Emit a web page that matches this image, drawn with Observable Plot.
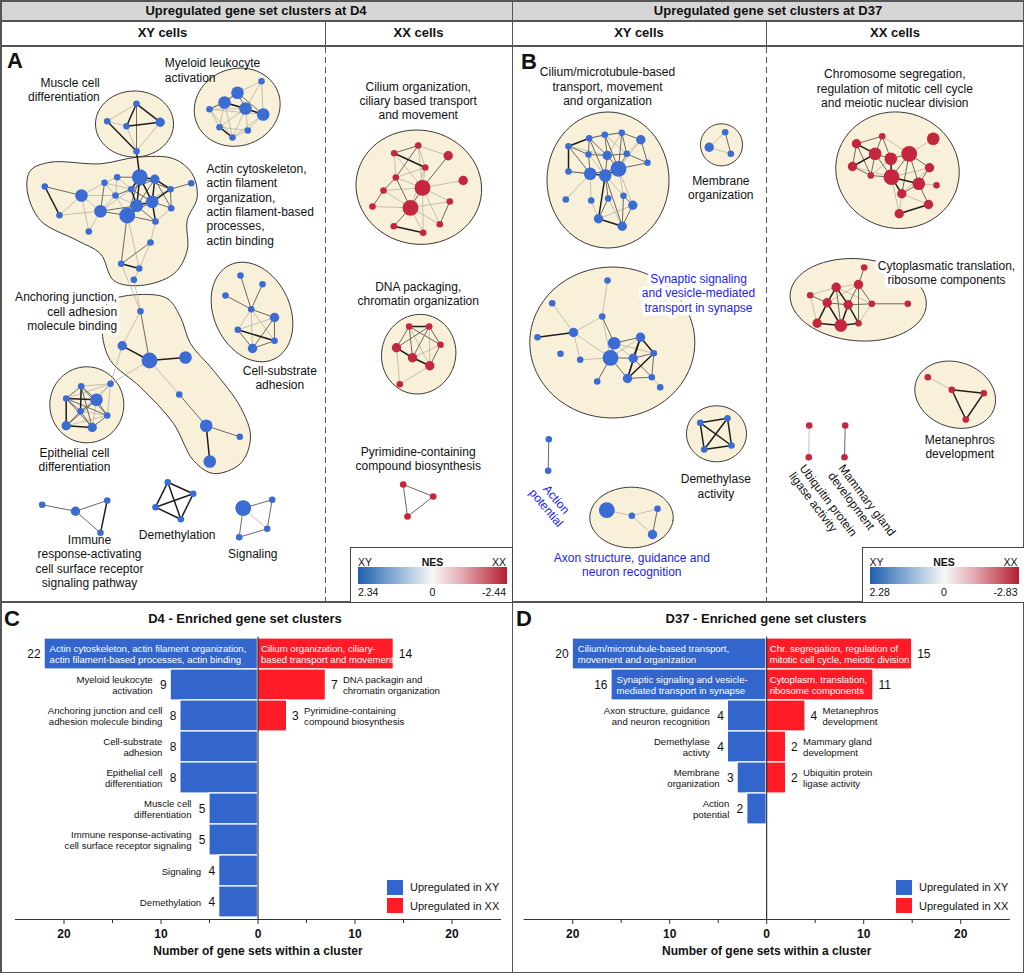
<!DOCTYPE html>
<html><head><meta charset="utf-8">
<script src="https://cdn.jsdelivr.net/npm/d3@7"></script>
<script src="https://cdn.jsdelivr.net/npm/@observablehq/plot@0.6"></script>
<style>
body{margin:0;background:#fff;font-family:"Liberation Sans",Arial,Helvetica,sans-serif;color:#111;}
#fig{position:relative;width:1024px;height:973px;overflow:hidden;background:#fff;}
.hl{position:absolute;height:1.5px;background:#555;}
.vl{position:absolute;width:1.5px;background:#555;}
.dash{position:absolute;width:1.3px;background:repeating-linear-gradient(to bottom,#555 0 6px,transparent 6px 10px);}
.hdr{position:absolute;display:flex;align-items:center;justify-content:center;font-weight:bold;font-size:13px;}
.gray{background:#d6d6d6;}
.letter{position:absolute;font-weight:bold;font-size:22px;line-height:1;}
.title{position:absolute;font-weight:bold;font-size:13px;transform:translate(-50%,-50%);white-space:nowrap;}
.nes{position:absolute;border:1.5px solid #444;background:#fff;box-sizing:border-box;}
.nes .grad{position:absolute;height:17px;background:linear-gradient(to right,#1f5fae,#9fbedd 30%,#f7f7f7 50%,#e3aab3 70%,#b51d2e);}
.nes span{position:absolute;font-size:10.5px;line-height:1;}
.leg{position:absolute;font-size:11px;}
.leg div{display:flex;align-items:center;height:18.5px;}
.leg i{display:inline-block;width:16px;height:15px;margin-right:7px;}
svg text{font-family:"Liberation Sans",Arial,Helvetica,sans-serif;}
.bar g[aria-label="x-axis tick label"] text{font-weight:bold;}
</style></head>
<body><div id="fig"></div>
<script>
// ---------------- DATA ----------------
// Network nodes: [id, layoutX, layoutY, sizeClass(1-4)]
const nodesD4XY = [
 ["m1",136,103.3,1],["m2",106.7,120.7,1],["m3",126,125.7,1],["m4",159.7,121.7,2],["m5",136,150.7,1],
 ["y1",261,80.7,1],["y2",237,92.3,3],["y3",224,102,3],["y4",245,108,3],["y5",262.7,114,3],["y6",209,108.7,1],["y7",219,126.7,1],["y8",247.3,130,1],["y9",232,137,1],
 ["a1",44.3,186,1],["a2",81,195,3],["a3",59,214.7,1],["a4",88.3,231,1],["a5",100,210.7,3],["a6",104,182.3,1],["a7",116.7,176.7,1],["a8",115,195,1],["a9",130.7,188.7,1],["a10",139.3,176.7,4],["a11",154.3,178.7,2],["a12",170,188.7,1],["a13",190.7,182.7,1],["a14",136.3,205.3,3],["a15",151.7,201.3,3],["a16",170.7,207.7,1],["a17",126.7,215,4],["a18",155,221,1],["a19",150,242,1],["a20",120.7,263.3,1],["a21",138.7,268,1],["a22",133.3,279.3,1],
 ["n1",140,310.7,1],["n2",121.7,345.3,2],["n3",149,360,4],["n4",185,357,3],["n5",178.7,394,1],["n6",205.7,425.3,3],["n7",239.3,436.3,1],["n8",209.3,461,3],
 ["e1",80.7,385.7,1],["e2",110,383.3,1],["e3",65.7,398,1],["e4",96,399.3,3],["e5",80,410.7,1],["e6",106.7,415,1],["e7",65.7,425.3,2],["e8",91.7,427,2],
 ["c1",240,275,1],["c2",262,283.7,1],["c3",225,295,1],["c4",250.7,308.7,1],["c5",274,317,2],["c6",237.3,329.3,1],["c7",274,340.3,1],["c8",252,348,2],
 ["i1",41.7,504.3,1],["i2",75,510.7,2],["i3",106.7,500,1],["i4",100,532.3,1],
 ["d1",167.3,481.7,1],["d2",192.7,493.3,1],["d3",155,506.7,1],["d4",180.3,518.7,1],
 ["g1",242.7,507.7,4],["g2",271.7,499.3,1],["g3",266.7,528.3,1],["g4",238.7,536.7,1]
];
const nodesD4XX = [
 ["r1",393.7,152.7,1],["r2",417.7,145,1],["r3",447.7,155.3,2],["r4",424.7,167,1],["r5",395.3,177,1],["r6",462.7,180,2],["r7",422,187.3,4],["r8",383,190,1],["r9",449.3,201,1],["r10",372,206,1],["r11",410,207.3,4],["r12",439.3,223.7,1],["r13",393.3,225.7,1],["r14",422.7,232.3,1],
 ["p1",408.7,326,1],["p2",428.7,326,1],["p3",396,347.3,2],["p4",440,344.3,1],["p5",412,357.3,2],["p6",429.3,365.3,2],["p7",399.3,383.7,1],
 ["q1",402.7,484,1],["q2",432.7,496,1],["q3",407,516,1]
];
const nodesD37XY = [
 ["b1",568,145.7,1],["b2",588.7,137.7,1],["b3",604.3,134.3,1],["b4",621.3,132.3,1],["b5",640.3,139.3,2],["b6",588,154,1],["b7",606.7,155,2],["b8",626.3,153.3,1],["b9",647,162.3,1],["b10",568,171,1],["b11",589.7,173.3,3],["b12",604.7,175,3],["b13",618,168.3,4],["b14",565.3,199,1],["b15",590.7,200,1],["b16",607.7,198,1],["b17",623,195.3,1],["b18",632.3,204.7,2],["b19",598,218.3,2],["b20",621.7,225.7,2],
 ["o1",724.7,131.7,1],["o2",708.7,146.7,2],["o3",730.3,153.3,1],
 ["s1",607,280,1],["s2",551.7,302.7,1],["s3",601.7,316,1],["s4",573,332,2],["s5",537,336.7,1],["s6",613.7,342.7,3],["s7",640,336.7,2],["s8",560,353.3,1],["s9",579.7,359.3,1],["s10",610,357.3,4],["s11",632.7,357.7,2],["s12",653.3,352.7,1],["s13",596.7,381,1],["s14",627,378,2],["s15",651.3,376.7,1],["s16",659.7,386.7,1],
 ["ap1",548.3,438.7,1],["ap2",547.7,470.3,1],
 ["dm1",699.7,422.3,1],["dm2",727,417.7,1],["dm3",703.7,449,1],["dm4",731,445,1],
 ["x1",606.3,509.7,4],["x2",631.3,515.3,1],["x3",657,508.3,1],["x4",652,534,2]
];
const nodesD37XX = [
 ["h1",856,143.3,2],["h2",881.7,135.7,1],["h3",932.7,138.3,3],["h4",874.7,153.3,3],["h5",890.3,158.3,3],["h6",908.7,153.3,4],["h7",852,166,2],["h8",870.3,175,1],["h9",891,176.7,4],["h10",929,167.3,2],["h11",918.3,183.3,3],["h12",936,184.7,1],["h13",901.3,193.3,2],["h14",928,204,2],["h15",898.7,213.3,2],
 ["t1",863.7,267,1],["t2",835.7,286.7,2],["t3",858,284,2],["t4",809.7,294.7,1],["t5",826.7,302.3,2],["t6",847.7,304.3,2],["t7",871.3,303.3,1],["t8",907.3,303.3,1],["t9",816.7,322.7,2],["t10",840.3,325,3],["t11",858,322.7,1],
 ["me1",927.3,376.7,1],["me2",951.3,389.3,1],["me3",983.3,392.7,1],["me4",965.3,419,1],
 ["u1",808.7,425,1],["u2",808.3,456.7,1],
 ["mg1",844.7,425,1],["mg2",844,456.7,1]
];
// Edges: [source, target, similarity class 1-3]
const edges = [
 ["m1","m3",3],["m1","m4",3],["m1","m5",2],["m1","m2",1],["m2","m5",3],["m3","m4",3],["m4","m5",1],["m3","m5",1],["m2","m3",1],["m5","a10",3],
 ["y1","y2",1],["y1","y5",1],["y1","y4",1],["y2","y3",2],["y2","y4",2],["y2","y5",2],["y3","y4",3],["y3","y6",2],["y3","y7",1],["y3","y9",1],["y4","y5",3],["y4","y8",1],["y4","y9",1],["y5","y8",1],["y5","y9",1],["y6","y7",1],["y6","y4",1],["y7","y9",3],["y7","y8",1],["y8","y9",1],["y6","y9",1],["y3","y5",2],["y2","y6",1],["y7","y4",1],["y6","y5",1],
 ["a1","a2",2],["a1","a3",3],["a2","a3",1],["a2","a4",1],["a2","a5",1],["a2","a6",1],["a2","a8",1],["a3","a5",1],["a5","a6",2],["a5","a8",1],["a5","a14",2],["a5","a17",2],["a6","a7",1],["a6","a9",1],["a7","a10",2],["a7","a8",1],["a8","a9",2],["a8","a17",1],["a9","a10",3],["a9","a14",3],["a9","a15",2],["a9","a11",2],["a10","a11",3],["a10","a14",3],["a10","a15",3],["a10","a12",2],["a10","a17",2],["a11","a12",3],["a11","a15",3],["a11","a14",2],["a11","a16",2],["a12","a13",2],["a12","a15",3],["a12","a16",2],["a14","a15",3],["a14","a17",3],["a14","a18",2],["a15","a16",2],["a15","a18",3],["a15","a17",2],["a16","a18",1],["a17","a18",2],["a17","a20",2],["a17","a21",1],["a18","a19",1],["a19","a20",2],["a20","a21",3],["a19","a21",1],["a21","a22",1],["a8","a14",1],["a7","a9",1],["a6","a8",1],["a12","a14",1],["a5","a9",1],["a4","a5",1],
 ["a22","n1",1],["a20","n1",1],["n1","n2",1],["n1","n3",2],["n2","n3",3],["n3","n4",3],["n3","n5",1],["n5","n6",2],["n6","n7",2],["n6","n8",3],["n2","e2",1],["n3","e2",1],
 ["e1","e3",2],["e1","e4",2],["e1","e2",1],["e1","e5",3],["e1","e6",2],["e1","e8",2],["e2","e4",1],["e2","e3",1],["e2","e5",1],["e2","e6",1],["e3","e4",3],["e3","e5",2],["e3","e7",3],["e3","e8",2],["e3","e6",2],["e4","e5",2],["e4","e6",2],["e4","e7",2],["e4","e8",1],["e5","e7",2],["e5","e8",2],["e5","e6",1],["e6","e8",2],["e7","e8",3],["e6","e7",1],
 ["c1","c4",2],["c2","c4",2],["c3","c4",2],["c4","c5",2],["c4","c6",1],["c4","c7",1],["c4","c8",1],["c5","c6",1],["c5","c7",2],["c5","c8",2],["c6","c7",3],["c6","c8",2],["c7","c8",2],
 ["i1","i2",2],["i2","i3",2],["i2","i4",2],["i3","i4",3],
 ["d1","d2",3],["d1","d3",3],["d1","d4",3],["d2","d3",3],["d2","d4",3],["d3","d4",3],
 ["g1","g2",2],["g2","g3",2],["g1","g3",1],["g3","g4",2],["g1","g4",2],
 ["r1","r2",2],["r1","r4",3],["r2","r4",1],["r2","r3",1],["r2","r5",2],["r2","r7",1],["r1","r5",1],["r1","r7",1],["r3","r7",2],["r4","r5",1],["r4","r7",1],["r5","r8",2],["r5","r11",2],["r5","r7",1],["r6","r7",1],["r7","r11",2],["r7","r8",1],["r7","r9",1],["r7","r12",1],["r7","r14",1],["r8","r10",2],["r8","r11",1],["r9","r12",2],["r9","r11",1],["r10","r11",1],["r11","r13",2],["r11","r12",1],["r11","r14",1],["r13","r14",3],["r4","r11",1],
 ["p1","p2",3],["p1","p3",2],["p1","p4",2],["p1","p5",2],["p1","p6",1],["p2","p3",2],["p2","p4",2],["p2","p5",2],["p2","p6",1],["p3","p5",3],["p3","p6",1],["p3","p7",1],["p4","p5",1],["p4","p6",2],["p5","p6",3],["p6","p7",1],
 ["q1","q2",2],["q2","q3",2],["q1","q3",2],
 ["b1","b2",3],["b1","b6",2],["b1","b10",3],["b1","b11",2],["b2","b3",2],["b2","b6",2],["b2","b7",2],["b2","b4",1],["b2","b12",2],["b3","b4",2],["b3","b7",2],["b3","b8",1],["b3","b13",2],["b4","b5",2],["b4","b8",2],["b4","b13",2],["b4","b7",1],["b5","b8",1],["b5","b9",2],["b5","b13",1],["b6","b7",2],["b6","b11",2],["b6","b12",1],["b7","b8",2],["b7","b12",2],["b7","b13",2],["b8","b9",2],["b8","b13",2],["b9","b13",2],["b10","b11",2],["b10","b12",1],["b11","b12",3],["b12","b13",3],["b11","b13",2],["b12","b16",2],["b12","b19",3],["b12","b20",2],["b12","b17",1],["b11","b15",1],["b14","b11",1],["b15","b19",1],["b16","b19",2],["b16","b20",1],["b17","b18",2],["b17","b20",2],["b18","b19",1],["b18","b20",2],["b19","b20",3],["b13","b17",1],["b13","b18",1],["b1","b7",1],
 ["o1","o2",1],["o2","o3",1],["o1","o3",2],
 ["s1","s3",1],["s2","s4",1],["s3","s4",1],["s3","s6",2],["s3","s10",1],["s4","s5",3],["s4","s10",1],["s4","s9",1],["s6","s7",2],["s6","s10",2],["s6","s11",1],["s7","s11",3],["s7","s12",3],["s7","s14",3],["s7","s10",1],["s9","s10",1],["s10","s11",2],["s10","s13",2],["s10","s14",2],["s11","s12",2],["s11","s14",2],["s11","s15",2],["s12","s14",3],["s12","s15",2],["s14","s15",2],["s15","s16",1],["s6","s12",1],
 ["ap1","ap2",2],
 ["dm1","dm2",3],["dm1","dm3",3],["dm2","dm4",3],["dm3","dm4",3],["dm1","dm4",3],["dm2","dm3",3],
 ["x1","x2",1],["x2","x3",1],["x2","x4",1],["x3","x4",2],
 ["h1","h2",2],["h1","h4",3],["h1","h7",2],["h1","h8",2],["h2","h4",2],["h2","h5",2],["h2","h6",1],["h3","h6",1],["h4","h5",2],["h4","h7",3],["h4","h8",2],["h4","h9",2],["h5","h6",2],["h5","h9",3],["h5","h8",1],["h6","h9",2],["h6","h10",2],["h6","h11",2],["h6","h13",2],["h7","h8",2],["h7","h9",1],["h8","h9",2],["h9","h11",3],["h9","h13",3],["h9","h10",1],["h10","h11",2],["h10","h13",1],["h11","h12",1],["h11","h13",2],["h11","h14",2],["h13","h15",1],["h14","h15",3],["h9","h15",1],["h13","h14",1],
 ["t1","t3",2],["t2","t3",1],["t2","t4",1],["t2","t5",3],["t2","t6",3],["t2","t10",2],["t3","t6",2],["t3","t7",2],["t3","t11",2],["t3","t5",1],["t4","t5",2],["t4","t9",1],["t5","t6",2],["t5","t9",3],["t5","t10",3],["t6","t10",3],["t6","t11",3],["t6","t7",2],["t7","t8",2],["t7","t11",1],["t9","t10",3],["t10","t11",3],["t2","t7",1],
 ["me1","me2",1],["me2","me3",3],["me2","me4",3],["me3","me4",3],
 ["u1","u2",1],["mg1","mg2",2]
];
// Cluster outlines: ellipses [id, cx, cy, rx, ry, tiltDeg]
const clusterEllipses = [
 ["muscle",134,123.5,39,33,0],["myeloid",236.7,106.7,43.5,38.5,-20],["epith",86.3,404.3,37,38,0],["cellsub",251.5,311.5,38,52,-25],
 ["cilD4",418.3,186.7,63,57,10],["dna",418.2,353.7,37,40,15],
 ["cilD37",607.5,179.5,61,68,0],["memb",721,144.3,21,21,0],["syn",611.8,342,82.5,75.5,0],["demase",716,433.3,30,28,0],["axon",631,517,41.7,30.3,0],
 ["chr",897,169.7,62,58,15],["cyto",857.7,299.3,68.3,41,5],["meta",954.7,394.2,41.3,32.5,20]
];
// Free-form cluster outlines (control points)
const clusterBlobs = {
 actin:[[30,170],[50,161.7],[100,163.3],[136.7,156.7],[173.3,158.3],[191.7,173.3],[196.7,196.7],[186.7,220],[186.7,250],[173.3,273.3],[140,285],[113.3,280],[100,253.3],[76.7,240],[40,220],[26.7,190]],
 anchoring:[[110,300],[140,294],[166.7,298],[180,316.7],[190,343],[213,370],[240,406.7],[250,436.7],[240,463],[213,473],[193,460],[173,423],[140,386.7],[110,360],[101.7,333],[103,310]]
};
// Cluster labels
const clusterLabels = [
 {t:"Muscle cell\ndifferentiation",x:99.3,y:88.7,a:"end"},
 {t:"Myeloid leukocyte\nactivation",x:164.3,y:69.3,a:"start"},
 {t:"Actin cytoskeleton,\nactin filament\norganization,\nactin filament-based\nprocesses,\nactin binding",x:206,y:203.8,a:"start"},
 {t:"Anchoring junction,\ncell adhesion\nmolecule binding",x:116.7,y:310.7,a:"end",halo:true},
 {t:"Cell-substrate\nadhesion",x:279.3,y:377,a:"middle"},
 {t:"Epithelial cell\ndifferentiation",x:74,y:459,a:"middle"},
 {t:"Immune\nresponse-activating\ncell surface receptor\nsignaling pathway",x:89,y:560.3,a:"middle"},
 {t:"Demethylation",x:176.7,y:534.3,a:"middle"},
 {t:"Signaling",x:252.3,y:552.7,a:"middle"},
 {t:"Cilium organization,\nciliary based transport\nand movement",x:417.7,y:100,a:"middle"},
 {t:"DNA packaging,\nchromatin organization",x:417.7,y:293,a:"middle"},
 {t:"Pyrimidine-containing\ncompound biosynthesis",x:417.7,y:458,a:"middle"},
 {t:"Cilium/microtubule-based\ntransport, movement\nand organization",x:607,y:85.6,a:"middle"},
 {t:"Membrane\norganization",x:720.3,y:187,a:"middle"},
 {t:"Synaptic signaling\nand vesicle-mediated\ntransport in synapse",x:698,y:292.2,a:"middle",blue:true,halo:true},
 {t:"Demethylase\nactivity",x:715.3,y:485.3,a:"middle"},
 {t:"Axon structure, guidance and\nneuron recognition",x:631.3,y:564.2,a:"middle",blue:true},
 {t:"Chromosome segregation,\nregulation of mitotic cell cycle\nand meiotic nuclear division",x:894.3,y:87.6,a:"middle"},
 {t:"Cytoplasmatic translation,\nribosome components",x:946,y:271.7,a:"middle",halo:true},
 {t:"Metanephros\ndevelopment",x:959.3,y:445.8,a:"middle"}
];
const rotatedLabels = [
 {t:"Action\npotential",x:551,y:503,la:"middle",blue:true},
 {t:"Ubiquitin protein\nligase activity",x:806,y:462,la:"top"},
 {t:"Mammary gland\ndevelopment",x:845,y:462,la:"top"}
];

// Bar chart data
const d4XYLabels = ["Actin cytoskeleton, actin filament organization,\nactin filament-based processes, actin binding","Myeloid leukocyte\nactivation","Anchoring junction and cell\nadhesion molecule binding","Cell-substrate\nadhesion","Epithelial cell\ndifferentiation","Muscle cell\ndifferentiation","Immune response-activating\ncell surface receptor signaling","Signaling","Demethylation"];
const d4XYCounts = [22,9,8,8,8,5,5,4,4];
const d4XXLabels = ["Cilium organization, ciliary-\nbased transport and movement","DNA packagin and\nchromatin organization","Pyrimidine-containing\ncompound biosynthesis"];
const d4XXCounts = [14,7,3];
const d37XYLabels = ["Cilium/microtubule-based transport,\nmovement and organization","Synaptic signaling and vesicle-\nmediated transport in synapse","Axon structure, guidance\nand neuron recognition","Demethylase\nactivty","Membrane\norganization","Action\npotential"];
const d37XYCounts = [20,16,4,4,3,2];
const d37XXLabels = ["Chr. segregation, regulation of\nmitotic cell cycle, meiotic division","Cytoplasm. translation,\nribosome components","Metanephros\ndevelopment","Mammary gland\ndevelopment","Ubiquitin protein\nligase activity"];
const d37XXCounts = [15,11,4,2,2];
const majorTicks = [-20,-10,0,10,20];
const minorTicks = [-15,-5,5,15];
const nesD4 = ["2.34","0","-2.44"];
const nesD37 = ["2.28","0","-2.83"];

// ---------------- STYLE ----------------
const BLUE_NODE="#3a6cd3", RED_NODE="#c4263d", BLUE_BAR="#3366cc", RED_BAR="#ff1c26";
const HULL_FILL="#f8f0d8", LABEL_BLUE="#1c1cf5";
const RADIUS = {1:3.3,2:4.7,3:6.3,4:7.9};
const EDGE_COLOR = {1:"#b8b3a3",2:"#6e6a62",3:"#1e1e1e"};
const EDGE_WIDTH = {1:0.8,2:1.0,3:1.5};
const FONT = '"Liberation Sans",Arial,Helvetica,sans-serif';

const fig = document.getElementById("fig");

// ---------------- NETWORK PLOT ----------------
const allNodes = [
 ...nodesD4XY.map(n=>({id:n[0],x:n[1],y:n[2],s:n[3],side:"xy"})),
 ...nodesD4XX.map(n=>({id:n[0],x:n[1],y:n[2],s:n[3],side:"xx"})),
 ...nodesD37XY.map(n=>({id:n[0],x:n[1],y:n[2],s:n[3],side:"xy"})),
 ...nodesD37XX.map(n=>({id:n[0],x:n[1],y:n[2],s:n[3],side:"xx"}))
];
const byId = new Map(allNodes.map(n=>[n.id,n]));
const links = edges.map(([a,b,w])=>({x1:byId.get(a).x,y1:byId.get(a).y,x2:byId.get(b).x,y2:byId.get(b).y,w}))
  .sort((p,q)=>p.w-q.w);
const hullPts = [];
for (const [id,cx,cy,rx,ry,deg] of clusterEllipses) {
  const th = deg*Math.PI/180;
  for (let k=0;k<64;k++){
    const t = k/64*2*Math.PI, ex = rx*Math.cos(t), ey = ry*Math.sin(t);
    hullPts.push({id, x: cx + ex*Math.cos(th) - ey*Math.sin(th), y: cy + ex*Math.sin(th) + ey*Math.cos(th)});
  }
}
for (const [id,pts] of Object.entries(clusterBlobs)) for (const [x,y] of pts) hullPts.push({id,x,y});

const labelMarks = [];
for (const a of ["start","middle","end"]) {
  const plain = clusterLabels.filter(d=>d.a===a && !d.halo);
  const halo = clusterLabels.filter(d=>d.a===a && d.halo);
  labelMarks.push(Plot.text(plain,{x:"x",y:"y",text:"t",textAnchor:a,fill:d=>d.blue?LABEL_BLUE:"#111",fontSize:12,lineHeight:1.19}));
  labelMarks.push(Plot.text(halo,{x:"x",y:"y",text:"t",textAnchor:a,fill:d=>d.blue?LABEL_BLUE:"#111",stroke:"white",strokeWidth:7,strokeLinejoin:"round",fontSize:12,lineHeight:1.19}));
}
const net = Plot.plot({
  width:1024, height:602, margin:0,
  x:{domain:[0,1024], range:[0,1024], axis:null},
  y:{domain:[0,602], range:[0,602], axis:null},
  r:{type:"identity"},
  style:{fontFamily:FONT, fontSize:"12px", background:"transparent", overflow:"visible"},
  marks:[
    Plot.line(hullPts,{x:"x",y:"y",z:"id",curve:"catmull-rom-closed",fill:HULL_FILL,stroke:"#3a3a3a",strokeWidth:1}),
    Plot.link(links,{x1:"x1",y1:"y1",x2:"x2",y2:"y2",stroke:d=>EDGE_COLOR[d.w],strokeWidth:d=>EDGE_WIDTH[d.w]}),
    Plot.dot(allNodes,{x:"x",y:"y",r:d=>RADIUS[d.s],fill:d=>d.side==="xx"?RED_NODE:BLUE_NODE,stroke:null}),
    ...labelMarks,
    Plot.text(rotatedLabels.filter(d=>d.la==="middle"),{x:"x",y:"y",text:"t",rotate:50,textAnchor:"middle",lineAnchor:"middle",fill:LABEL_BLUE,fontSize:12,lineHeight:1.1}),
    Plot.text(rotatedLabels.filter(d=>d.la==="top"),{x:"x",y:"y",text:"t",rotate:53,textAnchor:"start",lineAnchor:"top",fill:"#111",fontSize:12,lineHeight:1.1})
  ]
});
net.style.position="absolute"; net.style.left="0px"; net.style.top="0px";
fig.appendChild(net);

// ---------------- BAR CHARTS ----------------
const INSIDE = 11;
function barChart(xyLabels, xyCounts, xxLabels, xxCounts, mL, mR){
  const xy = xyCounts.map((n,i)=>({row:i,n,label:xyLabels[i]}));
  const xx = xxCounts.map((n,i)=>({row:i,n,label:xxLabels[i]}));
  const lab = {fontSize:9.6, lineHeight:1.2};
  return Plot.plot({
    width:512, height:371, marginTop:34.7, marginBottom:54, marginLeft:mL, marginRight:mR,
    x:{domain:[-25,25]},
    y:{domain:d3.range(9), padding:0, axis:null},
    style:{fontFamily:FONT, fontSize:"12px", background:"transparent", overflow:"visible"},
    className:"bar",
    marks:[
      Plot.barX(xy,{y:"row",x1:0,x2:d=>-d.n,fill:BLUE_BAR,stroke:"white",strokeWidth:1.2}),
      Plot.barX(xx,{y:"row",x1:0,x2:"n",fill:RED_BAR,stroke:"white",strokeWidth:1.2}),
      Plot.ruleX([0],{stroke:"#111",strokeWidth:1}),
      Plot.text(xy,{y:"row",x:d=>-d.n,text:d=>String(d.n),textAnchor:"end",dx:-4,fontSize:12}),
      Plot.text(xx,{y:"row",x:"n",text:d=>String(d.n),textAnchor:"start",dx:5,fontSize:12}),
      Plot.text(xy.filter(d=>d.n<INSIDE),{y:"row",x:d=>-d.n,text:"label",textAnchor:"end",dx:-18,...lab}),
      Plot.text(xy.filter(d=>d.n>=INSIDE),{y:"row",x:d=>-d.n,text:"label",textAnchor:"start",dx:5,fill:"white",...lab}),
      Plot.text(xx.filter(d=>d.n<INSIDE),{y:"row",x:"n",text:"label",textAnchor:"start",dx:17,...lab}),
      Plot.text(xx.filter(d=>d.n>=INSIDE),{y:"row",x:0,text:"label",textAnchor:"start",dx:3,fill:"white",...lab}),
      Plot.frame({anchor:"bottom",stroke:"#333",strokeWidth:1.2}),
      Plot.axisX({ticks:majorTicks,tickFormat:d=>String(Math.abs(d)),tickSize:5,tickPadding:5,fontSize:12,label:null,stroke:"#333"}),
      Plot.axisX({ticks:minorTicks,tickFormat:()=>"",tickSize:4,label:null,stroke:"#333"}),
      Plot.text(["Number of gene sets within a cluster"],{frameAnchor:"bottom",dy:35,fontWeight:"bold",fontSize:12})
    ]
  });
}
const c = barChart(d4XYLabels,d4XYCounts,d4XXLabels,d4XXCounts,15,12);
c.style.position="absolute"; c.style.left="0px"; c.style.top="602px";
fig.appendChild(c);
const d = barChart(d37XYLabels,d37XYCounts,d37XXLabels,d37XXCounts,11.7,15.3);
d.style.position="absolute"; d.style.left="512px"; d.style.top="602px";
fig.appendChild(d);

// ---------------- FRAMES, HEADERS, LEGENDS ----------------
function add(html){ fig.insertAdjacentHTML("beforeend", html); }
add(`<div class="hdr gray" style="left:0;top:0;width:512px;height:20px">Upregulated gene set clusters at D4</div>
<div class="hdr gray" style="left:512px;top:0;width:512px;height:20px">Upregulated gene set clusters at D37</div>
<div class="hdr" style="left:0;top:20px;width:325px;height:25px">XY cells</div>
<div class="hdr" style="left:325px;top:20px;width:187px;height:25px">XX cells</div>
<div class="hdr" style="left:512px;top:20px;width:254px;height:25px">XY cells</div>
<div class="hdr" style="left:766px;top:20px;width:258px;height:25px">XX cells</div>
<div class="hl" style="left:0;top:0;width:1024px"></div>
<div class="hl" style="left:0;top:20px;width:1024px"></div>
<div class="hl" style="left:0;top:45px;width:1024px"></div>
<div class="hl" style="left:0;top:601px;width:1024px"></div>
<div class="hl" style="left:0;top:971.5px;width:1024px"></div>
<div class="vl" style="left:0;top:0;height:973px"></div>
<div class="vl" style="left:511.5px;top:0;height:973px"></div>
<div class="vl" style="left:1022.5px;top:0;height:973px"></div>
<div class="vl" style="left:324.5px;top:20px;height:25px"></div>
<div class="vl" style="left:765.5px;top:20px;height:25px"></div>
<div class="dash" style="left:324.7px;top:47px;height:554px"></div>
<div class="dash" style="left:765.7px;top:47px;height:554px"></div>
<div class="letter" style="left:7px;top:50px">A</div>
<div class="letter" style="left:521px;top:51px">B</div>
<div class="letter" style="left:4px;top:608px">C</div>
<div class="letter" style="left:516px;top:608px">D</div>
<div class="title" style="left:245px;top:618px">D4 - Enriched gene set clusters</div>
<div class="title" style="left:766px;top:618px">D37 - Enriched gene set clusters</div>`);

function nes(left, width, vals){
  const gl = 7, gw = width-14;
  add(`<div class="nes" style="left:${left}px;top:546.5px;width:${width}px;height:56px">
   <span style="left:${gl}px;top:9px">XY</span>
   <span style="left:${gl+gw/2}px;top:9px;transform:translateX(-50%);font-weight:bold">NES</span>
   <span style="right:${width-gl-gw-1}px;top:9px">XX</span>
   <div class="grad" style="left:${gl}px;top:19px;width:${gw}px"></div>
   <span style="left:${gl}px;top:39px">${vals[0]}</span>
   <span style="left:${gl+gw/2}px;top:39px;transform:translateX(-50%)">${vals[1]}</span>
   <span style="right:${width-gl-gw-1}px;top:39px">${vals[2]}</span></div>`);
}
nes(350,163,nesD4);
nes(861.5,163,nesD37);

function barLegend(left){
  add(`<div class="leg" style="left:${left}px;top:878px">
  <div><i style="background:${BLUE_BAR}"></i>Upregulated in XY</div>
  <div><i style="background:${RED_BAR}"></i>Upregulated in XX</div></div>`);
}
barLegend(387);
barLegend(896);
</script>
</body></html>
